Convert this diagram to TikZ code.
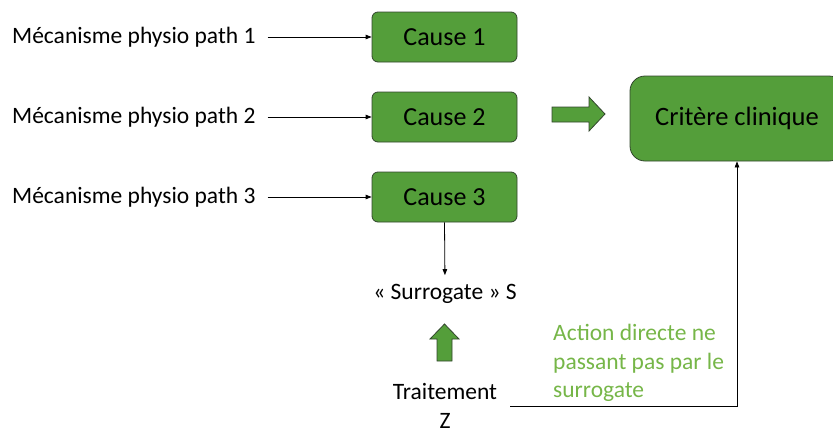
\documentclass[tikz,border=0pt]{standalone}
\usepackage{fontspec}
\setmainfont{Carlito}
\usetikzlibrary{arrows.meta}
\definecolor{boxgreen}{RGB}{84,158,58}
\definecolor{boxedge}{RGB}{50,70,45}
\definecolor{notegreen}{RGB}{118,182,72}
\begin{document}
\begin{tikzpicture}[x=1pt,y=-1pt,
  cause/.style={draw=boxedge, line width=0.8pt, fill=boxgreen, rounded corners=6pt,
    minimum width=145pt, minimum height=50pt, inner sep=0pt,
    font=\fontsize{26}{31}\selectfont},
  label/.style={anchor=west, inner sep=0pt, font=\fontsize{23.5}{28}\selectfont},
  plain/.style={inner sep=0pt, font=\fontsize{23.5}{28.5}\selectfont},
  thin/.style={line width=0.8pt, -{Triangle[length=6pt,width=4.5pt]}},
  block/.style={draw=boxedge, line width=0.8pt, fill=boxgreen, line join=miter}]
\useasboundingbox (0,0) rectangle (833,429);
\clip (0,0) rectangle (833,429);

% cause boxes
\node[cause] (c1) at (444.5,37) {Cause 1};
\node[cause] (c2) at (444.5,117) {Cause 2};
\node[cause] (c3) at (444.5,197) {Cause 3};

% clinical endpoint box (runs past the right edge)
\node[cause, rounded corners=15pt, minimum width=214pt, minimum height=85pt,
  font=\fontsize{26.5}{31}\selectfont] (crit) at (737,118.5) {Critère clinique};

% mechanisms
\node[label] (m1) at (12,37) {Mécanisme physio path 1};
\node[label] (m2) at (12,117) {Mécanisme physio path 2};
\node[label] (m3) at (12,197) {Mécanisme physio path 3};
\draw[thin, shorten <=12pt] (m1.east) -- (c1.west);
\draw[thin, shorten <=12pt] (m2.east) -- (c2.west);
\draw[thin, shorten <=12pt] (m3.east) -- (c3.west);

% block arrow towards the clinical endpoint
\draw[block] (552,107) -- (589,107) -- (589,97) -- (605,114) -- (589,131)
  -- (589,122) -- (552,122) -- cycle;

% surrogate
\node[plain] (sur) at (445,294) {« Surrogate » S};
\draw[thin, shorten >=9pt] (c3.south) -- (sur.north);

% block arrow from treatment to surrogate
\draw[block] (437,361) -- (437,339) -- (430,339) -- (444.5,324) -- (459,339)
  -- (452,339) -- (452,361) -- cycle;

% treatment
\node[plain, align=center] (tz) at (445,406) {Traitement\\Z};
\draw[thin, shorten <=13pt] (tz.east) -| (crit.south);

% note on the direct effect
\node[plain, anchor=north west, align=left, text=notegreen,
  font=\fontsize{23.5}{28.5}\selectfont] (note) at (553,324)
  {Action directe ne\\passant pas par le\\surrogate};
\end{tikzpicture}
\end{document}
